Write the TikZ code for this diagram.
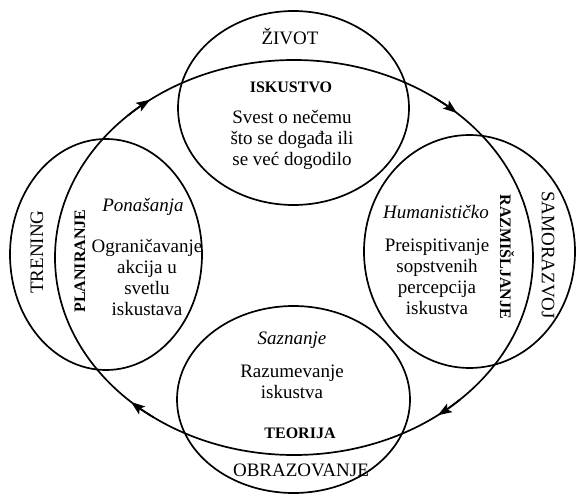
\documentclass[tikz,border=0pt]{standalone}
\usepackage{fontspec}
\setmainfont{Liberation Serif}
\usetikzlibrary{shapes.geometric,arrows.meta}
\begin{document}
\begin{tikzpicture}[x=1pt,y=1pt,
  ell/.style={draw, ellipse, line width=1.7pt, inner sep=0pt},
  reg/.style={font=\fontsize{19}{21}\selectfont, align=center, inner sep=0pt},
  lbl/.style={font=\fontsize{16}{19}\selectfont\bfseries, inner sep=0pt},
  emph/.style={font=\fontsize{19}{21}\selectfont\itshape, inner sep=0pt},
  arrowpart/.style={line width=1.7pt, -{Stealth[length=14pt,width=10pt,inset=3pt]}}
]
\useasboundingbox (0,0) rectangle (576,-495);
% ellipses
\node[ell, minimum width=478pt, minimum height=395pt] (cycle) at (294,-257.5) {};
\node[ell, minimum width=231pt, minimum height=194pt] (top) at (293.5,-108) {};
\node[ell, minimum width=233pt, minimum height=187pt] (bottom) at (293.5,-399.5) {};
\node[ell, minimum width=192pt, minimum height=231pt] (left) at (106,-254.5) {};
\node[ell, minimum width=211pt, minimum height=233pt] (right) at (469.5,-251.5) {};
% arrows on cycle
\coordinate (c) at (294,-257.5);
\draw[arrowpart] ([shift={(54:239 and 197.5)}]c) arc[start angle=54, end angle=47, x radius=239, y radius=197.5];
\draw[arrowpart] ([shift={(314:239 and 197.5)}]c) arc[start angle=314, end angle=307, x radius=239, y radius=197.5];
\draw[arrowpart] ([shift={(234:239 and 197.5)}]c) arc[start angle=234, end angle=227, x radius=239, y radius=197.5];
\draw[arrowpart] ([shift={(134:239 and 197.5)}]c) arc[start angle=134, end angle=127, x radius=239, y radius=197.5];
% top
\node[reg] (zivot) at (290,-36) {ŽIVOT};
\node[lbl] (iskustvo) at (291,-87) {ISKUSTVO};
\node[reg] (svest) at (292,-140) {Svest o nečemu\\što se događa ili\\se već dogodilo};
% left
\node[emph] (ponasanja) at (143,-207) {Ponašanja};
\node[reg] (ogran) at (147,-277) {Ograničavanje\\akcija u\\svetlu\\iskustava};
\node[reg, rotate=90] (trening) at (37,-252) {TRENING};
\node[lbl, rotate=90] (planiranje) at (80,-261) {PLANIRANJE};
% right
\node[emph] (human) at (436,-212) {Humanističko};
\node[reg] (preisp) at (437,-277) {Preispitivanje\\sopstvenih\\percepcija\\iskustva};
\node[lbl, rotate=-90] (razmisljanje) at (507,-257) {RAZMIŠLJANJE};
\node[reg, rotate=-90] (samorazvoj) at (548,-255) {SAMORAZVOJ};
% bottom
\node[emph] (saznanje) at (292,-340) {Saznanje};
\node[reg] (razum) at (292,-382) {Razumevanje\\iskustva};
\node[lbl] (teorija) at (300,-433) {TEORIJA};
\node[reg] (obraz) at (301,-470) {OBRAZOVANJE};
\end{tikzpicture}
\end{document}
